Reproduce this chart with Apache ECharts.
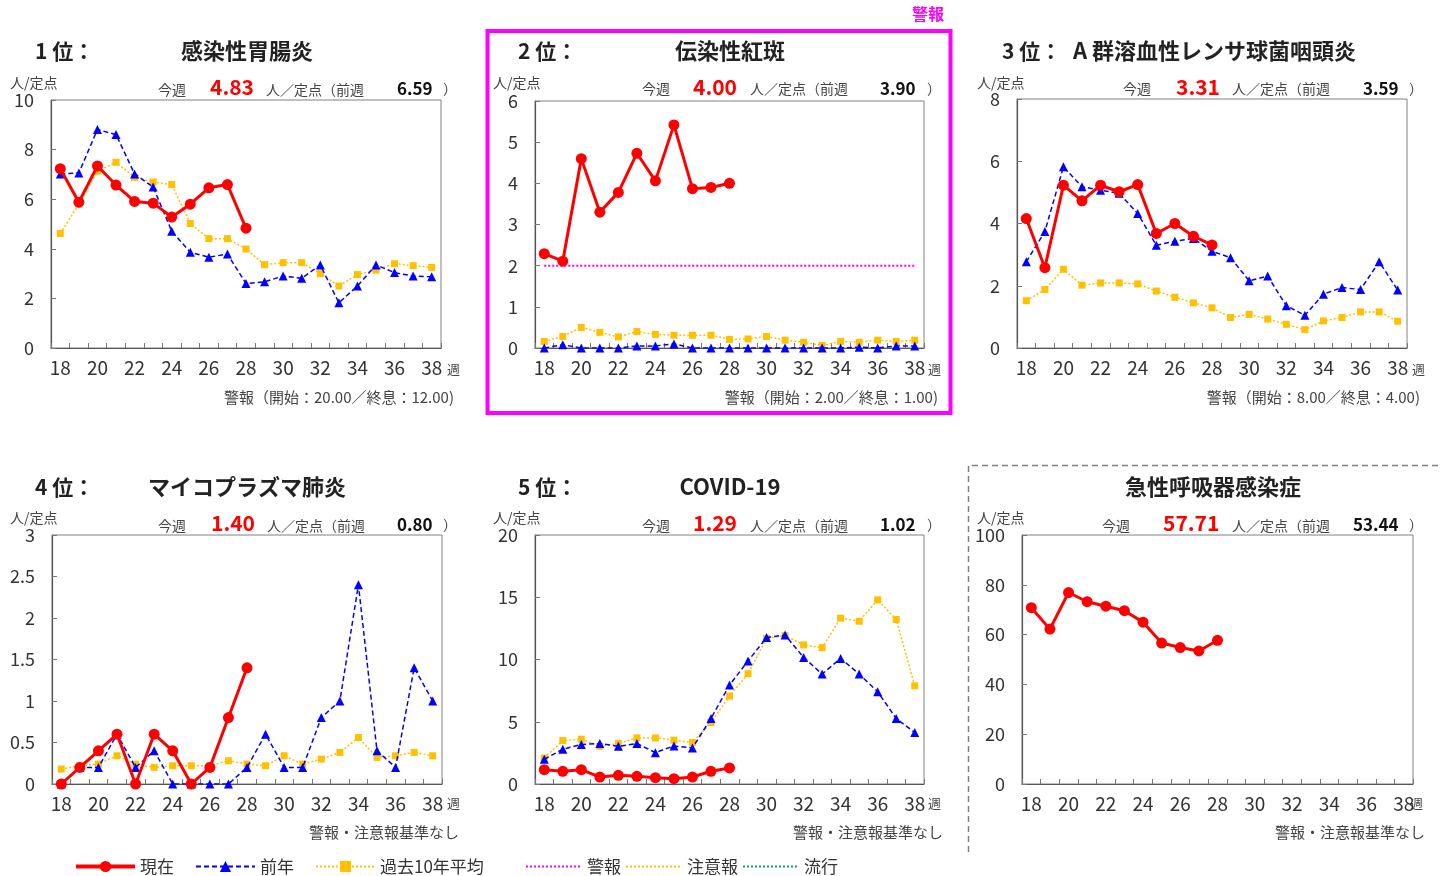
<!DOCTYPE html>
<html><head><meta charset="utf-8">
<script src="https://cdn.jsdelivr.net/npm/echarts@6/dist/echarts.min.js"></script>
<style>html,body{margin:0;padding:0;background:#fff}#c{width:1440px;height:876px}</style>
</head><body><div id="c"></div><script>
// ---- data ----
const weeks = ['18','19','20','21','22','23','24','25','26','27','28','29','30','31','32','33','34','35','36','37','38'];

const gastroNow  = [7.23,5.88,7.34,6.57,5.91,5.84,5.28,5.80,6.46,6.59,4.83];
const gastroPrev = [7.02,7.06,8.81,8.61,7.02,6.49,4.71,3.86,3.66,3.79,2.60,2.67,2.90,2.81,3.35,1.82,2.50,3.35,3.04,2.90,2.87];
const gastroAvg  = [4.62,5.80,7.13,7.49,6.88,6.69,6.59,5.02,4.41,4.41,3.99,3.36,3.44,3.44,3.00,2.50,2.96,3.14,3.40,3.32,3.25];

const eryNow   = [2.29,2.11,4.60,3.30,3.78,4.73,4.06,5.42,3.87,3.90,4.00];
const eryPrev  = [0,0.08,0,0,0,0.05,0.05,0.10,0,0,0,0,0,0,0,0,0,0.02,0,0.05,0.05];
const eryAvg   = [0.16,0.28,0.50,0.38,0.27,0.40,0.33,0.31,0.31,0.31,0.21,0.22,0.28,0.19,0.14,0.06,0.16,0.14,0.19,0.16,0.19];
const eryAlert = [2,2,2,2,2,2,2,2,2,2,2,2,2,2,2,2,2,2,2,2,2];

const strepNow  = [4.16,2.58,5.23,4.73,5.23,5.02,5.25,3.68,4.00,3.59,3.31];
const strepPrev = [2.77,3.74,5.82,5.18,5.07,4.97,4.32,3.30,3.43,3.52,3.11,2.90,2.16,2.31,1.36,1.05,1.73,1.94,1.88,2.77,1.86];
const strepAvg  = [1.52,1.88,2.53,2.02,2.09,2.09,2.06,1.83,1.63,1.45,1.29,0.98,1.08,0.93,0.76,0.59,0.87,0.98,1.16,1.16,0.86];

const mycoNow  = [0,0.2,0.4,0.6,0,0.6,0.4,0,0.2,0.8,1.4];
const mycoPrev = [0,0.2,0.2,0.6,0.2,0.4,0,0,0,0,0.2,0.6,0.2,0.2,0.8,1.0,2.4,0.4,0.2,1.4,1.0];
const mycoAvg  = [0.18,0.22,0.24,0.34,0.24,0.20,0.22,0.22,0.22,0.28,0.24,0.22,0.34,0.24,0.30,0.38,0.56,0.32,0.34,0.38,0.34];

const covidNow  = [1.15,1.02,1.15,0.56,0.70,0.62,0.51,0.43,0.56,1.02,1.29];
const covidPrev = [1.99,2.79,3.17,3.25,3.03,3.25,2.52,3.06,2.90,5.26,7.95,9.88,11.76,11.97,10.17,8.83,10.09,8.83,7.41,5.26,4.13];
const covidAvg  = [2.09,3.49,3.60,3.03,3.25,3.70,3.70,3.52,3.33,4.94,7.06,8.86,11.70,11.92,11.17,10.95,13.32,13.07,14.79,13.21,7.89];

const ariNow = [70.8,62.2,76.9,73.2,71.4,69.6,65.0,56.6,54.8,53.44,57.71];

const ranks    = ['1 位：','2 位：','3 位：','4 位：','5 位：',''];
const names    = ['感染性胃腸炎','伝染性紅斑','A 群溶血性レンサ球菌咽頭炎','マイコプラズマ肺炎','COVID-19','急性呼吸器感染症'];
const nowText  = ['4.83','4.00','3.31','1.40','1.29','57.71'];
const prevText = ['6.59','3.90','3.59','0.80','1.02','53.44'];
const notes    = ['警報（開始：20.00／終息：12.00)','警報（開始：2.00／終息：1.00)','警報（開始：8.00／終息：4.00)','警報・注意報基準なし','警報・注意報基準なし','警報・注意報基準なし'];
const yMax = [10,6,8,3,20,100];
const yStep = [2,1,2,0.5,5,20];

// ---- layout ----
const F = "'Noto Sans CJK JP','Noto Sans',sans-serif";
const grids = [
  {left:51,  top:100, width:390, height:248},
  {left:535, top:101, width:389, height:247},
  {left:1017,top:99,  width:390, height:249},
  {left:52,  top:535, width:390, height:249},
  {left:535, top:535, width:389, height:249},
  {left:1022,top:535, width:391, height:249}
];
const L = [
  {rank:[35,51], name:[247,51,'center'], unit:[10,83], kon:[158,90], val:[210,87], mid:[266,90], prev:[397,89], par:[443,89], note:[454,397], wk:[447,369]},
  {rank:[518,51], name:[730,51,'center'], unit:[493,83], kon:[642,89], val:[693,87], mid:[750,89], prev:[880,89], par:[927,89], note:[938,397], wk:[928,369]},
  {rank:[1002,51], name:[1073,51,'left'], unit:[977,83], kon:[1123,89], val:[1176,87], mid:[1232,89], prev:[1363,89], par:[1409,89], note:[1420,397], wk:[1412,369]},
  {rank:[35,487], name:[247,487,'center'], unit:[10,518], kon:[158,526], val:[211,523], mid:[267,526], prev:[397,525], par:[443,525], note:[459,832], wk:[447,803]},
  {rank:[518,487], name:[730,487,'center'], unit:[493,518], kon:[642,526], val:[693,523], mid:[750,526], prev:[880,525], par:[927,525], note:[943,832], wk:[928,803]},
  {rank:null, name:[1213,487,'center'], unit:[977,518], kon:[1102,526], val:[1163,523], mid:[1232,526], prev:[1353,525], par:[1409,525], note:[1425,832], wk:[1410,803]}
];

const RED='#FF0000', BLUE='#0000FF', ORG='#FFC000', MAG='#FF00FF', GRN='#00B050';

function txt(x,y,s,font,fill,align){
  return {type:'text', x:x, y:y, silent:true, style:{text:s, font:font, fill:fill, textAlign:align||'left', textVerticalAlign:'middle'}};
}

const graphic = [];
L.forEach((p,i)=>{
  if (p.rank) graphic.push(txt(p.rank[0],p.rank[1],ranks[i],'bold 21px '+F,'#222','left'));
  graphic.push(txt(p.name[0],p.name[1],names[i],'bold 22px '+F,'#222',p.name[2]));
  graphic.push(txt(p.unit[0],p.unit[1],'人/定点','14px '+F,'#444','left'));
  graphic.push(txt(p.kon[0],p.kon[1],'今週','14px '+F,'#444','left'));
  graphic.push(txt(p.val[0],p.val[1],nowText[i],'bold 21px '+F,RED,'left'));
  graphic.push(txt(p.mid[0],p.mid[1],'人／定点（前週','14px '+F,'#444','left'));
  graphic.push(txt(p.prev[0],p.prev[1],prevText[i],'bold 17px '+F,'#111','left'));
  graphic.push(txt(p.par[0],p.par[1],'）','14px '+F,'#444','left'));
  graphic.push(txt(p.note[0],p.note[1],notes[i],'15px '+F,'#444','right'));
  graphic.push(txt(p.wk[0],p.wk[1],'週','13px '+F,'#444','left'));
});
graphic.push({type:'rect', silent:true, shape:{x:487.5,y:31,width:463,height:382}, style:{fill:'none', stroke:MAG, lineWidth:4}});
graphic.push(txt(928,14,'警報','bold 16px '+F,MAG,'center'));
graphic.push({type:'polyline', silent:true, shape:{points:[[968.5,852],[968.5,465.5],[1440,465.5]]}, style:{fill:'none', stroke:'#7f7f7f', lineWidth:1.5, lineDash:[6,4]}});

const xAxis = grids.map((g,i)=>({
  type:'category', gridIndex:i, data:weeks, boundaryGap:true,
  axisLine:{lineStyle:{color:'#555',width:1.2}},
  axisTick:{show:true, inside:true, length:5, interval:0, lineStyle:{color:'#777'}},
  axisLabel:{interval:1, fontSize:19, color:'#333', margin:10, fontFamily:F},
  splitLine:{show:false}
}));
const yAxis = grids.map((g,i)=>({
  type:'value', gridIndex:i, min:0, max:yMax[i], interval:yStep[i],
  axisLine:{show:true, lineStyle:{color:'#555',width:1.2}},
  axisTick:{show:true, inside:true, length:5, lineStyle:{color:'#777'}},
  axisLabel:{fontSize:18, color:'#333', margin:17, fontFamily:F},
  splitLine:{show:false}
}));

function nowS(i,d){ return {name:'現在', type:'line', xAxisIndex:i, yAxisIndex:i, data:d, z:5, symbol:'circle', symbolSize:11,
  lineStyle:{color:RED,width:3}, itemStyle:{color:RED}, animation:false}; }
function prevS(i,d){ return {name:'前年', type:'line', xAxisIndex:i, yAxisIndex:i, data:d, z:4, symbol:'triangle', symbolSize:9,
  lineStyle:{color:BLUE,width:1.5,type:[5,3]}, itemStyle:{color:BLUE}, animation:false}; }
function avgS(i,d){ return {name:'過去10年平均', type:'line', xAxisIndex:i, yAxisIndex:i, data:d, z:3, symbol:'rect', symbolSize:7,
  lineStyle:{color:ORG,width:1.5,type:[2,2]}, itemStyle:{color:ORG}, animation:false}; }

const series = [
  avgS(0,gastroAvg), prevS(0,gastroPrev), nowS(0,gastroNow),
  avgS(1,eryAvg), prevS(1,eryPrev), nowS(1,eryNow),
  {name:'警報', type:'line', xAxisIndex:1, yAxisIndex:1, data:eryAlert, z:2, symbol:'none', lineStyle:{color:MAG,width:2,type:[2,2]}, itemStyle:{color:MAG}, animation:false},
  avgS(2,strepAvg), prevS(2,strepPrev), nowS(2,strepNow),
  avgS(3,mycoAvg), prevS(3,mycoPrev), nowS(3,mycoNow),
  avgS(4,covidAvg), prevS(4,covidPrev), nowS(4,covidNow),
  nowS(5,ariNow),
  {name:'注意報', type:'line', xAxisIndex:0, yAxisIndex:0, data:[], symbol:'none', lineStyle:{color:ORG,width:2,type:[2,2]}, itemStyle:{color:ORG}},
  {name:'流行', type:'line', xAxisIndex:0, yAxisIndex:0, data:[], symbol:'none', lineStyle:{color:GRN,width:2,type:[2,2]}, itemStyle:{color:GRN}}
];

const legText = {fontSize:17, color:'#333', fontFamily:F};
const chart = echarts.init(document.getElementById('c'), null, {renderer:'canvas'});
chart.setOption({
  backgroundColor:'#fff',
  animation:false,
  textStyle:{fontFamily:F},
  grid: grids.map(g=>Object.assign({show:true, borderColor:'#808080', borderWidth:1, backgroundColor:'transparent', containLabel:false}, g)),
  xAxis: xAxis,
  yAxis: yAxis,
  legend: [
    {data:[{name:'現在', lineStyle:{width:4}}, {name:'前年'}, {name:'過去10年平均'}],
     left:74, top:858, padding:0, itemWidth:59, itemHeight:14, itemGap:21, selectedMode:false, textStyle:legText},
    {data:[{name:'警報', itemStyle:{opacity:0}}, {name:'注意報', itemStyle:{opacity:0}}, {name:'流行', itemStyle:{opacity:0}}],
     left:525, top:858, padding:0, itemWidth:56, itemHeight:14, itemGap:4, selectedMode:false, textStyle:legText}
  ],
  graphic: graphic,
  series: series
});
</script></body></html>
